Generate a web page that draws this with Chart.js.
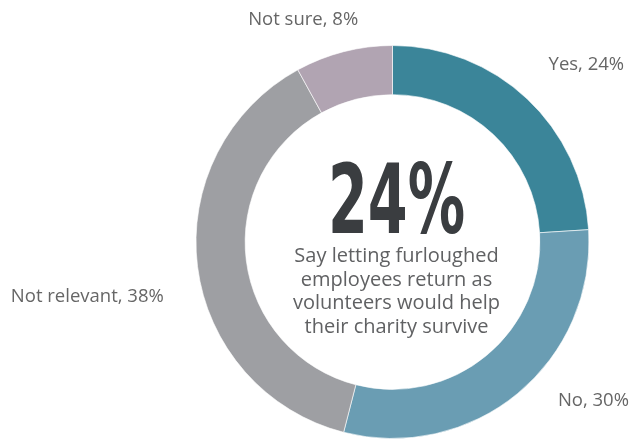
<!DOCTYPE html>
<html>
<head>
<meta charset="utf-8">
<script src="https://cdn.jsdelivr.net/npm/chart.js@4.4.1/dist/chart.umd.min.js"></script>
<style>
  html, body { margin: 0; padding: 0; background: #fff; }
  #wrap { width: 632px; height: 443px; }
</style>
</head>
<body>
<div id="wrap"><canvas id="donut" width="632" height="443"></canvas></div>
<script>
// Survey answers
const categories = ['Yes', 'No', 'Not relevant', 'Not sure'];
const shares = [24, 30, 38, 8];
const sliceColors = ['#3b8599', '#6a9db3', '#9e9fa3', '#b1a4b2'];

// Headline in the hole
const headline = '24%';
const subLines = ['Say letting furloughed', 'employees return as', 'volunteers would help', 'their charity survive'];

// Small nudges for the outside labels (px, relative to the mid-angle anchor)
const labelNudge = [[1, -12], [21, -16], [-4, 26], [22, -3]];

const outsideLabels = {
    id: 'outsideLabels',
    afterDraw(chart) {
        const ctx = chart.ctx;
        const arcs = chart.getDatasetMeta(0).data;
        ctx.save();
        ctx.font = '18.5px "Open Sans"';
        ctx.fillStyle = '#666666';
        ctx.textBaseline = 'middle';
        arcs.forEach(function(arc, i) {
            const mid = (arc.startAngle + arc.endAngle) / 2;
            const r = arc.outerRadius + 30;
            const x = arc.x + Math.cos(mid) * r + labelNudge[i][0];
            const y = arc.y + Math.sin(mid) * r + labelNudge[i][1];
            ctx.textAlign = Math.cos(mid) >= 0 ? 'left' : 'right';
            ctx.fillText(categories[i] + ', ' + shares[i] + '%', x, y);
        });
        ctx.restore();
    }
};

const centerText = {
    id: 'centerText',
    afterDraw(chart) {
        const ctx = chart.ctx;
        const arc = chart.getDatasetMeta(0).data[0];
        const cx = arc.x + 4;
        const cy = arc.y;
        ctx.save();
        // big condensed number, squeezed to the reference width
        ctx.font = 'bold 96px "DejaVu Sans Condensed", "DejaVu Sans", sans-serif';
        ctx.fillStyle = '#3a3d40';
        ctx.textAlign = 'center';
        ctx.textBaseline = 'alphabetic';
        const w = ctx.measureText(headline).width;
        const sx = 137 / w;
        ctx.translate(cx, cy - 9);
        ctx.scale(sx, 1);
        ctx.fillText(headline, 0, 0);
        ctx.restore();

        ctx.save();
        ctx.font = '20px "Open Sans"';
        ctx.fillStyle = '#606163';
        ctx.textAlign = 'center';
        ctx.textBaseline = 'alphabetic';
        subLines.forEach(function(line, i) {
            ctx.fillText(line, cx, cy + 20 + i * 23.6);
        });
        ctx.restore();
    }
};

new Chart(document.getElementById('donut'), {
    type: 'doughnut',
    data: {
        labels: categories,
        datasets: [{
            data: shares,
            backgroundColor: sliceColors,
            borderColor: 'rgba(255,255,255,0.6)',
            borderWidth: 1
        }]
    },
    options: {
        responsive: false,
        animation: false,
        cutout: '75%',
        layout: {
            padding: { left: 195.5, right: 42.5, top: 45, bottom: 4 }
        },
        plugins: {
            legend: { display: false },
            tooltip: { enabled: false }
        }
    },
    plugins: [outsideLabels, centerText]
});
</script>
</body>
</html>
